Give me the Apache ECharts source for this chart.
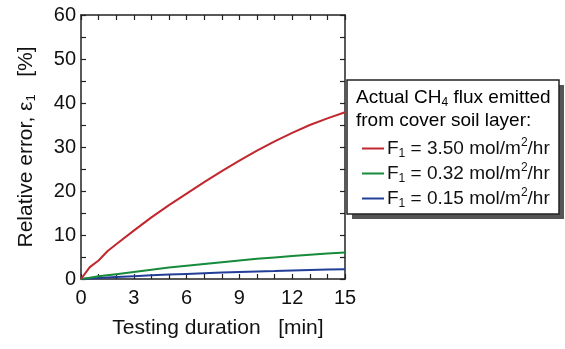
<!DOCTYPE html>
<html>
<head>
<meta charset="utf-8">
<script src="https://cdn.jsdelivr.net/npm/echarts@6/dist/echarts.min.js"></script>
<style>html,body{margin:0;padding:0;background:#fff;}#c{width:565px;height:349px;}</style>
</head>
<body>
<div id="c"></div>
<script>
const durations = [0, 0.5, 1, 1.5, 2, 3, 4, 5, 6, 7, 8, 9, 10, 11, 12, 13, 14, 15];
const errF350 = [0, 2.7, 4.2, 6.3, 7.9, 11.0, 14.0, 16.8, 19.4, 22.0, 24.5, 26.9, 29.2, 31.3, 33.2, 35.0, 36.5, 37.9];
const errF032 = [0, 0.3, 0.6, 0.85, 1.1, 1.6, 2.1, 2.6, 3.0, 3.4, 3.8, 4.2, 4.6, 4.9, 5.2, 5.5, 5.8, 6.0];
const errF015 = [0, 0.13, 0.25, 0.35, 0.45, 0.65, 0.85, 1.0, 1.15, 1.3, 1.45, 1.6, 1.7, 1.8, 1.95, 2.05, 2.15, 2.2];
const seriesNames = ['F1 = 3.50', 'F1 = 0.32', 'F1 = 0.15'];
const fluxLabels = ['3.50', '0.32', '0.15'];
const colors = ['#c1272d', '#178a3c', '#233e99'];
const xMin = 0, xMax = 15, xStep = 3;
const yMin = 0, yMax = 60, yStep = 10;

const FONT = 'Liberation Sans, Arial, sans-serif';
const pairs = vals => durations.map((t, i) => [t, vals[i]]);
const valuesList = [errF350, errF032, errF015];

const axisCommon = {
  type: 'value',
  axisLine: { show: true, onZero: false, lineStyle: { color: '#222', width: 1.5 } },
  axisTick: { show: true, inside: true, length: 5, lineStyle: { color: '#222', width: 1.2 } },
  minorTick: { show: true, length: 5, lineStyle: { color: '#222', width: 1.2 } },
  splitLine: { show: false },
  minorSplitLine: { show: false }
};

const richMain = {
  n: { fontFamily: FONT, fontSize: 19, color: '#111', lineHeight: 23 },
  s: { fontFamily: FONT, fontSize: 12, color: '#111', lineHeight: 8, verticalAlign: 'bottom' },
  p: { fontFamily: FONT, fontSize: 12, color: '#111', lineHeight: 14, verticalAlign: 'top' }
};

const chart = echarts.init(document.getElementById('c'), null, { renderer: 'canvas' });
chart.setOption({
  animation: false,
  grid: { left: 81, right: 220, top: 15, bottom: 70 },
  xAxis: [
    Object.assign({}, axisCommon, {
      min: xMin, max: xMax, interval: xStep, position: 'bottom',
      minorTick: Object.assign({}, axisCommon.minorTick, { splitNumber: 3 }),
      axisLabel: { fontFamily: FONT, fontSize: 20, color: '#111', margin: 9 },
      name: 'Testing duration   [min]', nameLocation: 'middle', nameGap: 39,
      nameTextStyle: { fontFamily: FONT, fontSize: 21, color: '#111', padding: [0, 0, 0, 10] }
    }),
    Object.assign({}, axisCommon, {
      min: xMin, max: xMax, interval: xStep, position: 'top',
      minorTick: Object.assign({}, axisCommon.minorTick, { splitNumber: 3 }),
      axisLabel: { show: false }
    })
  ],
  yAxis: [
    Object.assign({}, axisCommon, {
      min: yMin, max: yMax, interval: yStep, position: 'left',
      minorTick: Object.assign({}, axisCommon.minorTick, { splitNumber: 2 }),
      axisLabel: { fontFamily: FONT, fontSize: 20, color: '#111', margin: 5 },
      name: '{n|Relative error, ε}{s|1}{n|   [%]}', nameLocation: 'middle', nameGap: 43,
      nameTextStyle: { rich: { n: { fontFamily: FONT, fontSize: 21, color: '#111', lineHeight: 24 }, s: { fontFamily: FONT, fontSize: 13, color: '#111', lineHeight: 8, verticalAlign: 'bottom' } } }
    }),
    Object.assign({}, axisCommon, {
      min: yMin, max: yMax, interval: yStep, position: 'right',
      minorTick: Object.assign({}, axisCommon.minorTick, { splitNumber: 2 }),
      axisLabel: { show: false }
    })
  ],
  legend: {
    orient: 'vertical', left: 357, top: 132, itemWidth: 22, itemHeight: 14, itemGap: 2,
    icon: 'path://M0,0 L22,0 L22,2 L0,2 Z',
    data: seriesNames,
    formatter: name => {
      const i = seriesNames.indexOf(name);
      return '{n|F}{s|1}{n| = ' + fluxLabels[i] + ' mol/m}{p|2}{n|/hr}';
    },
    textStyle: { rich: richMain, padding: [0, 0, 0, -2] },
    z: 10
  },
  graphic: [
    { type: 'rect', z: 5, shape: { x: 352, y: 85, width: 212, height: 134 }, style: { fill: '#555' } },
    { type: 'rect', z: 6, shape: { x: 347, y: 80, width: 212, height: 134 }, style: { fill: '#fff', stroke: '#222', lineWidth: 1.5 } },
    { type: 'text', z: 7, left: 356, top: 88, style: {
        text: '{n|Actual CH}{s|4}{n| flux emitted}\n{n|from cover soil layer:}',
        rich: richMain
    } }
  ],
  series: valuesList.map((vals, i) => ({
    type: 'line', name: seriesNames[i], data: pairs(vals),
    showSymbol: false, symbol: 'none', smooth: false,
    lineStyle: { color: colors[i], width: 2 }, itemStyle: { color: colors[i] },
    z: 3 - i + 2
  }))
});
</script>
</body>
</html>
